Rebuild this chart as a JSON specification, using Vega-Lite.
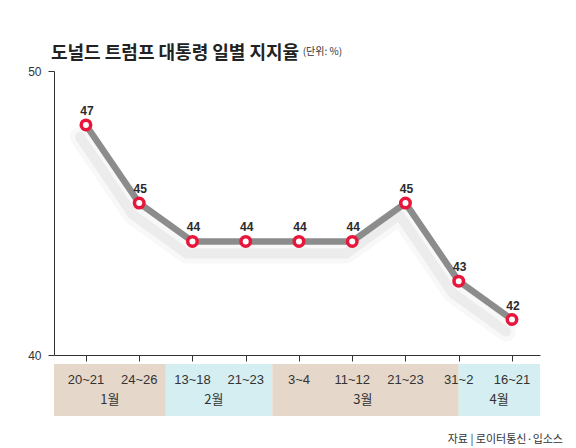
{
  "$schema": "https://vega.github.io/schema/vega-lite/v6.json",
  "background": "white",
  "padding": {"left": 27, "top": 45, "right": 13, "bottom": 2},
  "title": {
    "text": "도널드 트럼프 대통령 일별 지지율",
    "anchor": "start",
    "frame": "group",
    "font": "Noto Sans CJK KR",
    "fontSize": 18,
    "fontWeight": "bold",
    "color": "#222222",
    "dx": -3,
    "offset": -16
  },
  "datasets": {
    "approval": [
      {"i": 0, "date": "20~21", "month": "1월", "plotted": 48.1, "label": "47"},
      {"i": 1, "date": "24~26", "month": "1월", "plotted": 45.35, "label": "45"},
      {"i": 2, "date": "13~18", "month": "2월", "plotted": 44.0, "label": "44"},
      {"i": 3, "date": "21~23", "month": "2월", "plotted": 44.0, "label": "44"},
      {"i": 4, "date": "3~4", "month": "3월", "plotted": 44.0, "label": "44"},
      {"i": 5, "date": "11~12", "month": "3월", "plotted": 44.0, "label": "44"},
      {"i": 6, "date": "21~23", "month": "3월", "plotted": 45.35, "label": "45"},
      {"i": 7, "date": "31~2", "month": "3월", "plotted": 42.6, "label": "43"},
      {"i": 8, "date": "16~21", "month": "4월", "plotted": 41.25, "label": "42"}
    ],
    "months": [
      {"month": "1월", "start": -0.6, "end": 1.5, "center": 0.45},
      {"month": "2월", "start": 1.5, "end": 3.5, "center": 2.4},
      {"month": "3월", "start": 3.5, "end": 7, "center": 5.2},
      {"month": "4월", "start": 7, "end": 8.526, "center": 7.76}
    ]
  },
  "spacing": 2,
  "vconcat": [
    {
      "width": 486,
      "height": 284,
      "title": {
        "text": "(단위: %)",
        "anchor": "start",
        "font": "Noto Sans CJK KR",
        "fontSize": 10,
        "fontWeight": "normal",
        "color": "#333333",
        "dx": 275,
        "offset": 8
      },
      "data": {"name": "approval"},
      "encoding": {
        "x": {
          "field": "i",
          "type": "quantitative",
          "scale": {"domain": [-0.6, 8.526], "nice": false, "zero": false},
          "axis": {
            "values": [0, 1, 2, 3, 4, 5, 6, 7, 8],
            "labels": false,
            "title": null,
            "grid": false,
            "tickSize": 6,
            "domainColor": "#333333",
            "tickColor": "#333333"
          }
        },
        "y": {
          "field": "plotted",
          "type": "quantitative",
          "scale": {"domain": [40, 50], "nice": false, "zero": false},
          "axis": {
            "values": [40, 50],
            "title": null,
            "grid": false,
            "tickSize": 6,
            "labelPadding": 7,
            "labelFont": "Liberation Sans",
            "labelFontSize": 12,
            "labelColor": "#333333",
            "domainColor": "#333333",
            "tickColor": "#333333"
          }
        }
      },
      "layer": [
        {
          "mark": {"type": "line", "color": "#555555", "strokeWidth": 20, "opacity": 0.04, "strokeJoin": "round", "strokeCap": "round", "xOffset": -6, "yOffset": 12}
        },
        {
          "mark": {"type": "line", "color": "#555555", "strokeWidth": 10, "opacity": 0.07, "strokeJoin": "round", "strokeCap": "round", "xOffset": -6, "yOffset": 12}
        },
        {
          "mark": {"type": "line", "color": "#8c8c8c", "strokeWidth": 6.5, "strokeJoin": "round"}
        },
        {
          "mark": {"type": "point", "shape": "circle", "filled": true, "fill": "white", "stroke": "#e8163b", "strokeWidth": 3.5, "size": 90, "opacity": 1}
        },
        {
          "mark": {"type": "text", "font": "Liberation Sans", "fontSize": 12, "fontWeight": "bold", "color": "#2a2a2a", "dy": -14, "dx": 1, "baseline": "middle"},
          "encoding": {"text": {"field": "label"}}
        }
      ]
    },
    {
      "width": 486,
      "height": 52,
      "title": {
        "text": "자료 | 로이터통신·입소스",
        "orient": "bottom",
        "anchor": "end",
        "font": "Noto Sans CJK KR",
        "fontSize": 11,
        "fontWeight": "normal",
        "color": "#333333",
        "dx": 23,
        "offset": 18
      },
      "layer": [
        {
          "data": {"name": "months"},
          "mark": {"type": "rect"},
          "encoding": {
            "x": {"field": "start", "type": "quantitative", "scale": {"domain": [-0.6, 8.526], "nice": false, "zero": false}, "axis": null},
            "x2": {"field": "end"},
            "color": {
              "field": "month",
              "type": "nominal",
              "scale": {"domain": ["1월", "2월", "3월", "4월"], "range": ["#e5d8ca", "#d4eef2", "#e5d8ca", "#d4eef2"]},
              "legend": null
            }
          }
        },
        {
          "data": {"name": "approval"},
          "mark": {"type": "text", "font": "Liberation Sans", "fontSize": 13, "color": "#333333"},
          "encoding": {
            "x": {"field": "i", "type": "quantitative"},
            "y": {"datum": "date", "type": "nominal", "scale": {"type": "point", "domain": ["date", "month"], "padding": 0.8}, "axis": null},
            "text": {"field": "date"}
          }
        },
        {
          "data": {"name": "months"},
          "mark": {"type": "text", "font": "Noto Sans CJK KR", "fontSize": 13, "color": "#333333"},
          "encoding": {
            "x": {"field": "center", "type": "quantitative"},
            "y": {"datum": "month", "type": "nominal"},
            "text": {"field": "month"}
          }
        }
      ]
    }
  ],
  "config": {
    "view": {"stroke": null},
    "font": "Liberation Sans"
  }
}
